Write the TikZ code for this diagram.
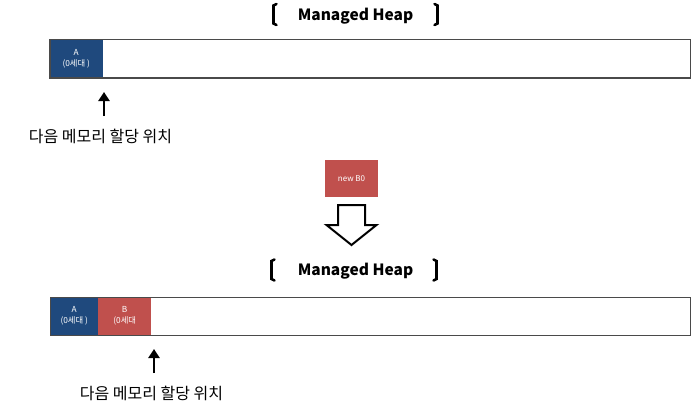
\documentclass[tikz,border=0pt]{standalone}
\usepackage{fontspec}
\newfontfamily\kr{Noto Sans CJK KR}
\usetikzlibrary{arrows.meta}
\definecolor{ablue}{HTML}{1F497D}
\definecolor{bred}{HTML}{C0504D}
\definecolor{edge}{HTML}{4A4A4A}
\begin{document}
\begin{tikzpicture}[x=1pt,y=-1pt,
  heapbox/.style={draw=edge,line width=1.3pt,inner sep=0pt,minimum height=38.5pt,anchor=north west},
  blockbox/.style={inner sep=0pt,text=white,align=center,anchor=north west,minimum height=38.5pt,
     font=\kr\fontsize{8.3}{11}\selectfont},
  title/.style={font=\kr\bfseries\fontsize{15.5}{17}\selectfont,inner sep=0pt},
  label/.style={font=\kr\fontsize{16}{18}\selectfont,inner sep=0pt},
  bracket/.style={line width=2.6pt,line cap=round},
  pointer/.style={line width=2.8pt,-{Triangle[width=11pt,length=9pt]}},
  hollow/.style={draw=black,line width=2pt,fill=white,line join=miter}
]
\useasboundingbox (0,0) rectangle (691,412);
% ---------- top heading
\node[title] (t1) at (355.5,16) {Managed Heap};
\draw[bracket] (276.5,4) -- (273.5,5.5) -- (273.5,23.5) -- (276.5,25);
\draw[bracket] (434.5,4) -- (437.5,5.5) -- (437.5,23.5) -- (434.5,25);
% ---------- top heap
\node[blockbox,fill=ablue,minimum width=53.4pt] (a1) at (49.3,39) {A\\(0세대 )};
\node[heapbox,minimum width=640.7pt] (h1) at (49.3,39) {};
\coordinate (p1s) at (104,116);
\coordinate (p1e) at (104,92);
\draw[pointer] (p1s) -- (p1e);
\node[label] (l1) at (100.5,136) {다음 메모리 할당 위치};
% ---------- new B0
\node[fill=bred,text=white,inner sep=0pt,minimum width=52.7pt,minimum height=36.7pt,anchor=north west,
      font=\kr\fontsize{8}{9}\selectfont] (nb) at (325,160) {new B0};
\draw[hollow] (338,205) -- (365,205) -- (365,225) -- (376.5,225) -- (351.5,245) -- (326.5,225) -- (338,225) -- cycle;
% ---------- bottom heading
\node[title] (t2) at (355.5,271) {Managed Heap};
\draw[bracket] (274.5,259.5) -- (271.5,261) -- (271.5,279) -- (274.5,280.5);
\draw[bracket] (433.5,259.5) -- (436.5,261) -- (436.5,279) -- (433.5,280.5);
% ---------- bottom heap
\node[blockbox,fill=ablue,minimum width=48pt,minimum height=38.3pt] (a2) at (50,296.7) {A\\(0세대 )};
\node[blockbox,fill=bred,minimum width=53pt,minimum height=38.3pt] (b2) at (98,296.7) {B\\(0세대};
\node[heapbox,minimum width=640pt,minimum height=38.3pt] (h2) at (50,296.7) {};
\coordinate (p2s) at (154,373);
\coordinate (p2e) at (154,349);
\draw[pointer] (p2s) -- (p2e);
\node[label] (l2) at (151.5,393) {다음 메모리 할당 위치};
\end{tikzpicture}
\end{document}
